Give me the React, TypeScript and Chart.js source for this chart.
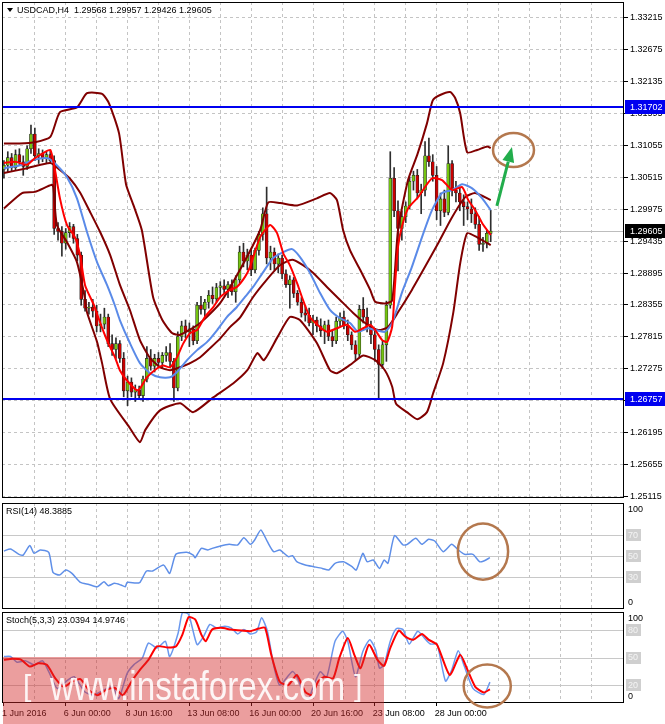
import React, { useEffect, useRef } from "react";
import { Chart, registerables } from "chart.js";

Chart.register(...registerables);

const FONT = '"Liberation Sans", Arial, Helvetica, sans-serif';
Chart.defaults.font.family = FONT;

// ---------------- data ----------------
const symbolName = "USDCAD,H4";
const opens = [1.3065,1.3072,1.3085,1.3068,1.3090,1.3078,1.3070,1.3100,1.3125,1.3088,
1.3092,1.3083,1.3090,1.3080,1.2965,1.2960,1.2940,1.2958,1.2968,1.2948,
1.2920,1.2845,1.2830,1.2832,1.2825,1.2800,1.2803,1.2815,1.2770,1.2760,
1.2770,1.2745,1.2690,1.2705,1.2688,1.2692,1.2682,1.2710,1.2745,1.2732,
1.2745,1.2738,1.2750,1.2755,1.2740,1.2695,1.2782,1.2800,1.2790,1.2795,
1.2775,1.2835,1.2828,1.2840,1.2852,1.2846,1.2865,1.2868,1.2862,1.2870,
1.2858,1.2878,1.2925,1.2910,1.2920,1.2895,1.2928,1.2955,1.2990,1.2915,
1.2925,1.2905,1.2915,1.2888,1.2870,1.2878,1.2855,1.2840,1.2822,1.2818,
1.2805,1.2810,1.2800,1.2792,1.2802,1.2782,1.2775,1.2808,1.2815,1.2800,
1.2785,1.2768,1.2752,1.2828,1.2815,1.2800,1.2785,1.2760,1.2735,1.2768,
1.2835,1.3050,1.2995,1.2965,1.2985,1.3003,1.3045,1.3055,1.3025,1.3030,
1.3088,1.3078,1.3055,1.2995,1.3015,1.2992,1.3075,1.3030,1.3025,1.3010,
1.3002,1.2998,1.2990,1.2972,1.2938,1.2940,1.29568];
const highs = [1.3080,1.3095,1.3092,1.3098,1.3100,1.3088,1.3105,1.3140,1.3135,1.3100,
1.3098,1.3095,1.3096,1.3088,1.2975,1.2968,1.2965,1.2975,1.2972,1.2955,
1.2925,1.2860,1.2840,1.2845,1.2835,1.2820,1.2830,1.2820,1.2785,1.2780,
1.2775,1.2755,1.2715,1.2712,1.2700,1.2698,1.2715,1.2765,1.2760,1.2752,
1.2755,1.2755,1.2765,1.2770,1.2745,1.2790,1.2808,1.2810,1.2805,1.2800,
1.2840,1.2850,1.2845,1.2860,1.2866,1.2872,1.2875,1.2878,1.2875,1.2878,
1.2885,1.2935,1.2940,1.2930,1.2928,1.2932,1.2960,1.3000,1.3035,1.2935,
1.2932,1.2922,1.2920,1.2895,1.2885,1.2882,1.2860,1.2848,1.2835,1.2830,
1.2818,1.2815,1.2812,1.2808,1.2810,1.2792,1.2815,1.2822,1.2825,1.2810,
1.2790,1.2775,1.2835,1.2848,1.2830,1.2808,1.2795,1.2768,1.2775,1.2842,
1.3095,1.3068,1.3012,1.2995,1.3010,1.3052,1.3062,1.3065,1.3040,1.3112,
1.3118,1.3090,1.3070,1.3025,1.3030,1.3105,1.3080,1.3045,1.3035,1.3022,
1.3010,1.3015,1.3000,1.2985,1.2950,1.2962,1.29957];
const lows = [1.3050,1.3060,1.3062,1.3064,1.3072,1.3055,1.3065,1.3092,1.3080,1.3075,
1.3078,1.3076,1.3075,1.2955,1.2945,1.2918,1.2930,1.2950,1.2940,1.2910,
1.2835,1.2825,1.2820,1.2815,1.2790,1.2790,1.2795,1.2765,1.2750,1.2745,
1.2738,1.2680,1.2665,1.2680,1.2672,1.2675,1.2672,1.2705,1.2725,1.2722,
1.2730,1.2728,1.2740,1.2730,1.2672,1.2690,1.2775,1.2780,1.2765,1.2768,
1.2770,1.2820,1.2815,1.2830,1.2838,1.2840,1.2850,1.2855,1.2848,1.2852,
1.2840,1.2872,1.2900,1.2895,1.2885,1.2890,1.2920,1.2945,1.2905,1.2895,
1.2895,1.2890,1.2880,1.2865,1.2830,1.2848,1.2835,1.2815,1.2808,1.2800,
1.2785,1.2790,1.2782,1.2770,1.2775,1.2765,1.2770,1.2800,1.2795,1.2775,
1.2760,1.2742,1.2748,1.2805,1.2790,1.2770,1.2740,1.2678,1.2728,1.2740,
1.2830,1.2985,1.2893,1.2945,1.2975,1.2998,1.3030,1.3015,1.2990,1.3020,
1.3070,1.3045,1.2980,1.2970,1.2985,1.2988,1.3020,1.3010,1.2995,1.2970,
1.2980,1.2975,1.2965,1.2928,1.2926,1.2932,1.29426];
const closes = [1.3072,1.3085,1.3068,1.3090,1.3078,1.3070,1.3100,1.3125,1.3088,1.3092,
1.3083,1.3090,1.3080,1.2965,1.2960,1.2940,1.2958,1.2968,1.2948,1.2920,
1.2845,1.2830,1.2832,1.2825,1.2800,1.2803,1.2815,1.2770,1.2760,1.2770,
1.2745,1.2690,1.2705,1.2688,1.2692,1.2682,1.2710,1.2745,1.2732,1.2745,
1.2738,1.2750,1.2755,1.2740,1.2695,1.2782,1.2800,1.2790,1.2795,1.2775,
1.2835,1.2828,1.2840,1.2852,1.2846,1.2865,1.2868,1.2862,1.2870,1.2858,
1.2878,1.2925,1.2910,1.2920,1.2895,1.2928,1.2955,1.2990,1.2915,1.2925,
1.2905,1.2915,1.2888,1.2870,1.2878,1.2855,1.2840,1.2822,1.2818,1.2805,
1.2810,1.2800,1.2792,1.2802,1.2782,1.2775,1.2808,1.2815,1.2800,1.2785,
1.2768,1.2752,1.2828,1.2815,1.2800,1.2785,1.2760,1.2735,1.2768,1.2835,
1.3050,1.2995,1.2965,1.2985,1.3003,1.3045,1.3055,1.3025,1.3030,1.3088,
1.3078,1.3055,1.2995,1.3015,1.2992,1.3075,1.3030,1.3025,1.3010,1.3002,
1.2998,1.2990,1.2972,1.2938,1.2940,1.29568,1.29605];

// indicator lines: [bar index, value]
const maRed = [[0,1.3076],[3,1.3078],[6,1.3073],[8,1.3084],[10.5,1.3094],[12,1.3098],[13,1.3072],[14.5,1.3016],[16.3,1.2971],[18.4,1.2950],[19.7,1.2920],[21,1.2869],[23.3,1.2835],[24.5,1.2813],[25.8,1.2790],[27,1.2771],[28.8,1.2746],[30,1.2725],[31.8,1.2708],[34.4,1.2691],[35.2,1.2694],[37,1.2713],[39.6,1.2728],[41.2,1.2733],[43,1.2730],[44.8,1.2747],[46.4,1.2770],[48.2,1.2788],[50,1.2793],[52,1.2815],[54.2,1.2832],[56,1.2849],[58.5,1.2861],[60.3,1.2866],[62.4,1.2883],[63.7,1.2900],[66.3,1.2950],[68.9,1.2971],[70.7,1.2957],[72.3,1.2923],[74,1.2903],[75.9,1.2872],[77.4,1.2844],[79.2,1.2815],[81.8,1.2798],[83.6,1.2790],[86.2,1.2796],[88.8,1.2802],[90.9,1.2790],[93,1.2796],[94.8,1.2802],[96.1,1.2793],[97.9,1.2776],[99.2,1.2773],[100.5,1.2799],[101.2,1.2866],[102,1.2934],[103,1.2968],[104.6,1.2999],[107.2,1.3018],[110.8,1.3050],[113.4,1.3047],[116,1.3030],[118.6,1.3035],[120.2,1.3013],[122,1.2996],[123.8,1.2974],[126,1.2954]];
const maBlue = [[0,1.3067],[4.2,1.3072],[7.6,1.3081],[11.4,1.3084],[13.7,1.3072],[16.3,1.3052],[18.9,1.3016],[21.5,1.2959],[24.1,1.2908],[26.7,1.2869],[28.7,1.2835],[30,1.2810],[32.6,1.2771],[35.2,1.2737],[37.8,1.2720],[40.4,1.2713],[43,1.2713],[44.8,1.2722],[47.4,1.2742],[50,1.2759],[52.6,1.2773],[55.2,1.2793],[57.7,1.2815],[60.3,1.2832],[62.4,1.2849],[64.5,1.2866],[67.1,1.2891],[69.7,1.2915],[72.3,1.2925],[74.6,1.2930],[76.6,1.2917],[79.2,1.2890],[81.8,1.2856],[84.4,1.2827],[87,1.2813],[89.6,1.2805],[91.7,1.2790],[94.2,1.2796],[96.1,1.2793],[98.6,1.2790],[100.5,1.2805],[103,1.2856],[105.6,1.2900],[108.2,1.2950],[110.8,1.2996],[113.4,1.3025],[116,1.3030],[118.6,1.3040],[121.2,1.3033],[123.8,1.3016],[126,1.2996]];
const bbMid = [[0,1.3059],[6,1.3067],[12,1.3076],[14.5,1.3064],[17,1.3050],[19.7,1.3026],[22.3,1.2993],[24.9,1.2959],[27.5,1.2920],[30,1.2870],[32.6,1.2827],[35.2,1.2776],[37.8,1.2746],[40.4,1.2730],[43,1.2725],[45.6,1.2730],[48.2,1.2737],[50.8,1.2747],[53.3,1.2762],[56,1.2779],[58.5,1.2798],[61.1,1.2814],[64.5,1.2849],[68,1.2878],[71.5,1.2903],[74.6,1.2912],[77.4,1.2903],[80,1.2890],[83.6,1.2866],[87,1.2844],[90.4,1.2822],[93.5,1.2805],[96.9,1.2793],[99.4,1.2798],[102,1.2823],[105.6,1.2861],[109,1.2900],[112.4,1.2940],[116,1.2984],[119.4,1.3018],[122,1.3025],[126,1.3013]];
const bbUpper = [[0,1.3109],[4,1.3109],[8,1.3111],[12,1.3120],[14.5,1.3162],[18.9,1.3170],[21.5,1.3194],[25.4,1.3193],[27.2,1.3177],[29.8,1.3126],[31.6,1.3040],[33.5,1.3005],[35.7,1.2962],[38.6,1.2849],[41,1.2810],[43.5,1.2788],[45.6,1.2785],[50.8,1.2805],[56,1.2839],[61.1,1.2895],[66.3,1.2962],[68.4,1.3009],[71.5,1.3008],[75.9,1.3004],[81,1.3016],[84.4,1.3025],[86.2,1.3013],[87.8,1.2962],[89.6,1.2928],[92.2,1.2895],[94.8,1.2861],[96.1,1.2841],[98.6,1.2838],[100.5,1.2843],[102,1.2962],[104.6,1.3047],[107,1.3090],[109.5,1.3143],[111,1.3182],[112.9,1.3191],[115.5,1.3196],[116.8,1.3186],[118.1,1.3160],[119.9,1.3094],[122.5,1.3098],[125.1,1.3104],[126,1.3101]];
const bbLower = [[0,1.2999],[4.7,1.3025],[8,1.3027],[12.4,1.3039],[12.8,1.3035],[13.7,1.2971],[16.3,1.2942],[18.9,1.2908],[20.9,1.2849],[21.5,1.2823],[24.1,1.2773],[25.4,1.2737],[27.5,1.2676],[32.4,1.2629],[35.2,1.2603],[36.6,1.2624],[40.4,1.2657],[45.6,1.2669],[49,1.2654],[54.2,1.2679],[59.4,1.2703],[63,1.2725],[65.6,1.2754],[67.3,1.2742],[70.8,1.2781],[74,1.2815],[76.6,1.2810],[81,1.2771],[84.4,1.2725],[86.2,1.2720],[89.6,1.2734],[93,1.2750],[96.1,1.2742],[98.6,1.2725],[100.5,1.2697],[101.5,1.2668],[104.3,1.2654],[107,1.2642],[109.5,1.2654],[111.1,1.2686],[113.7,1.2737],[116.3,1.2822],[118.1,1.2906],[119.9,1.2957],[122.5,1.2950],[126,1.2937]];
const rsiLine = [[0,54.7],[1.7,56.6],[3.9,51.6],[5,50.9],[6.7,59.8],[7.8,52.5],[9.4,55.7],[11.6,53.5],[12.7,34.6],[14.4,32.0],[16,36.8],[17.6,33.6],[19.8,25.1],[22,23.2],[24.2,21.0],[25.9,25.7],[27,22.0],[28.6,24.2],[30.3,22.6],[31.4,21.0],[31.9,25.1],[34.1,24.5],[35.2,25.1],[36.9,35.8],[38.5,35.8],[41.3,41.5],[42.9,33.6],[44.5,51.6],[47.3,53.5],[49,50.9],[49.5,48.4],[51.1,57.2],[52.8,55.7],[53.9,57.2],[56.1,59.5],[58.3,61.0],[60.5,60.4],[62.1,67.3],[63.8,61.0],[64.9,65.1],[66.5,74.6],[68.2,63.5],[69.8,54.1],[71.4,55.7],[73.6,49.4],[74.7,50.3],[75.8,44.6],[78,41.5],[80.2,39.9],[82.4,38.3],[84.1,36.8],[85.7,43.1],[87.9,44.6],[90.1,39.9],[91.2,36.8],[92.9,52.5],[94,44.6],[95.6,46.2],[97.2,38.3],[98.4,46.2],[99.4,43.1],[101.1,69.2],[103.3,60.4],[104.4,61.0],[106.6,66.7],[108.2,61.0],[109.9,65.8],[111.5,64.2],[113.7,54.1],[115.9,61.0],[117.6,55.7],[119.2,51.6],[121.4,51.6],[123.1,44.6],[124.2,45.3],[125.8,48.4]];
const stochK = [[0,51.1],[1.7,51.1],[3.4,44.8],[5.6,46.3],[7.8,41.9],[10,46.3],[11.6,34.5],[13.8,16.0],[16.5,25.2],[18.2,28.9],[20.9,12.3],[23.1,8.6],[25.3,13.0],[28.1,17.8],[29.7,4.9],[31.9,32.6],[33.6,41.9],[35.8,49.3],[37.4,65.9],[39.6,60.4],[41.8,67.8],[42.9,51.1],[45.1,77.0],[46.2,99.2],[47.8,97.4],[50,64.1],[51.7,73.3],[53.3,86.3],[55,82.6],[57.2,84.4],[58.8,82.6],[60.5,75.9],[62.1,80.7],[63.8,75.9],[65.4,78.1],[66.7,93.7],[68.2,78.9],[69.8,41.9],[71.4,19.7],[74.7,34.5],[76.4,23.4],[77.5,8.6],[78.9,4.9],[80.2,19.7],[81.9,34.5],[83.5,27.8],[85.7,67.8],[87.7,78.9],[89,67.8],[91,28.9],[92.9,56.7],[94.7,69.6],[96.2,58.5],[97.2,38.2],[98.4,41.9],[100,67.8],[101.6,81.8],[103.3,80.7],[104.9,64.8],[107.1,78.9],[108.8,71.5],[110.4,64.8],[112.1,64.8],[114.3,24.1],[115.9,36.3],[117.6,57.4],[119.2,40.0],[121.4,16.0],[124.2,9.3],[125.8,23.0]];
const stochD = [[0,47.4],[2.3,48.5],[4.5,47.4],[6.7,40.0],[8.9,43.7],[11.1,41.9],[13.3,27.1],[15.5,17.8],[17.6,23.4],[19.8,26.3],[22,14.1],[24.2,8.6],[26.4,14.1],[28.6,16.7],[30.8,8.6],[33,23.4],[35.2,36.3],[37.4,47.4],[39.6,62.2],[42.4,61.1],[44.5,62.2],[46.2,75.2],[47.8,94.4],[49.5,91.8],[51.1,75.2],[52.2,67.8],[53.9,80.7],[56.1,82.6],[58.8,80.7],[61.6,79.6],[63.8,78.9],[66,81.8],[67.6,82.6],[69.2,53.0],[71.4,23.4],[73.6,19.7],[75.8,30.8],[78,12.3],[79.7,8.6],[81.3,23.4],[83,28.9],[85.2,27.1],[86.8,49.3],[89,71.5],[90.7,53.0],[92.3,38.2],[94.5,64.1],[96.7,47.4],[98.4,40.8],[100,60.4],[102.2,79.6],[103.8,73.3],[106,69.6],[108.2,75.9],[109.9,69.6],[112.1,64.1],[115.4,30.8],[118.1,53.0],[119.8,38.2],[122,17.8],[124.2,11.5],[125.8,15.0]];
const rsiLast = "48.3885";
const stochLast = ["23.0394", "14.9746"];

const priceTicks = [1.33215,1.32675,1.32135,1.31595,1.31055,1.30515,1.29975,1.29435,1.28895,1.28355,1.27815,1.27275,1.26735,1.26195,1.25655,1.25115];
const levelPrices = [1.31702, 1.26757];
const lastPrice = 1.29605;
const gridBars = [8,16,24,32,40,48,56,64,72,80,88,96,104,112,120,128,136,144,152];
const timeTickBars = [0,16,32,48,64,80,96,112];
const timeTickLabels = ["1 Jun 2016","6 Jun 00:00","8 Jun 16:00","13 Jun 08:00","16 Jun 00:00","20 Jun 16:00","23 Jun 08:00","28 Jun 00:00"];
const rsiLevels = [70, 50, 30];
const rsiAxis = [100, 70, 50, 30, 0];
const stochLevels = [80, 50, 20];
const stochAxis = [100, 80, 50, 20, 0];

// hand-drawn marks (in data units)
const mainEllipse = { cx: 131.9, cy: 1.30979, rx: 5.3, ry: 0.00288 };
const arrowTail = [127.6, 1.30031];
const arrowTip = [131.5, 1.3103];
const rsiEllipse = { cx: 124.0, cy: 54.2, rx: 6.5, ry: 26.5 };
const stochEllipse = { cx: 125.1, cy: 18.7, rx: 6.1, ry: 23.6 };

// ---------------- styles ----------------
const GRID = "#c4c4c4";
const UP = "#74c410";
const DOWN = "#c80000";
const BLUE_LEVEL = "#0000f0";
const CIRCLE = "#b4784e";
const ARROW = "#22ad4c";
const X_MIN = -0.5;
const X_MAX = 160.5;

function xScale(labels: boolean) {
  return {
    type: "linear",
    min: X_MIN,
    max: X_MAX,
    bounds: "data",
    offset: false,
    afterBuildTicks: (s: any) => {
      s.ticks = (labels ? [0, ...gridBars] : gridBars).map((v) => ({ value: v }));
    },
    afterFit: (s: any) => {
      s.height = labels ? 21 : 0;
      s.paddingLeft = 0;
      s.paddingRight = 0;
    },
    grid: {
      offset: false,
      color: (c: any) => (c.tick && c.tick.value === 0 ? "rgba(0,0,0,0)" : GRID),
      lineWidth: 1,
      drawTicks: labels,
      tickLength: 3,
      tickColor: (c: any) => (c.tick && timeTickBars.includes(c.tick.value) ? "#000" : "rgba(0,0,0,0)"),
    },
    border: { display: false, dash: [3, 3] },
    ticks: {
      display: labels,
      autoSkip: false,
      maxRotation: 0,
      minRotation: 0,
      align: "start",
      padding: 2,
      labelOffset: -2,
      color: "#000",
      font: { size: 9, family: FONT },
      callback: (v: any) => {
        const k = timeTickBars.indexOf(Number(v));
        return k >= 0 ? timeTickLabels[k] : "";
      },
    },
  };
}

function panelY(min: number, max: number) {
  return {
    type: "linear",
    position: "right",
    min,
    max,
    beginAtZero: false,
    afterFit: (s: any) => {
      s.width = 41;
      s.paddingTop = 0;
      s.paddingBottom = 0;
    },
    grid: { display: false },
    border: { display: false },
    ticks: { display: false },
  };
}

function lineDs(pairs: number[][], color: string, width: number) {
  return {
    type: "line",
    data: pairs.map(([x, y]) => ({ x, y })),
    borderColor: color,
    borderWidth: width,
    pointRadius: 0,
    tension: 0.2,
    fill: false,
  };
}

function strokeFrame(ctx: any, a: any) {
  ctx.save();
  ctx.strokeStyle = "#000";
  ctx.lineWidth = 1;
  ctx.strokeRect(a.left + 0.5, a.top + 0.5, a.right - a.left - 1, a.bottom - a.top - 1);
  ctx.restore();
}

function drawEllipse(chart: any, e: any) {
  const { ctx, scales } = chart;
  const cx = scales.x.getPixelForValue(e.cx);
  const cy = scales.y.getPixelForValue(e.cy);
  const rx = Math.abs(scales.x.getPixelForValue(e.cx + e.rx) - cx);
  const ry = Math.abs(scales.y.getPixelForValue(e.cy + e.ry) - cy);
  ctx.save();
  ctx.strokeStyle = CIRCLE;
  ctx.lineWidth = 2.5;
  ctx.beginPath();
  ctx.ellipse(cx, cy, rx, ry, 0, 0, Math.PI * 2);
  ctx.stroke();
  ctx.restore();
}

const mainDeco = {
  id: "mainDeco",
  beforeDatasetsDraw(chart: any) {
    const { ctx, chartArea: a, scales } = chart;
    const py = Math.round(scales.y.getPixelForValue(lastPrice)) + 0.5;
    ctx.save();
    ctx.strokeStyle = "#bdbdbd";
    ctx.lineWidth = 1;
    ctx.beginPath();
    ctx.moveTo(a.left, py);
    ctx.lineTo(a.right, py);
    ctx.stroke();
    ctx.restore();
  },
  afterDatasetsDraw(chart: any) {
    const { ctx, chartArea: a, scales } = chart;
    ctx.save();
    ctx.strokeStyle = BLUE_LEVEL;
    ctx.lineWidth = 2;
    levelPrices.forEach((p) => {
      const py = Math.round(scales.y.getPixelForValue(p));
      ctx.beginPath();
      ctx.moveTo(a.left, py);
      ctx.lineTo(a.right, py);
      ctx.stroke();
    });
    ctx.restore();
    drawEllipse(chart, mainEllipse);
    // arrow
    const x0 = scales.x.getPixelForValue(arrowTail[0]);
    const y0 = scales.y.getPixelForValue(arrowTail[1]);
    const x1 = scales.x.getPixelForValue(arrowTip[0]);
    const y1 = scales.y.getPixelForValue(arrowTip[1]);
    const ang = Math.atan2(y1 - y0, x1 - x0);
    const hl = 15, hw = 6;
    const bx = x1 - hl * Math.cos(ang);
    const by = y1 - hl * Math.sin(ang);
    ctx.save();
    ctx.strokeStyle = ARROW;
    ctx.fillStyle = ARROW;
    ctx.lineWidth = 3;
    ctx.beginPath();
    ctx.moveTo(x0, y0);
    ctx.lineTo(bx, by);
    ctx.stroke();
    ctx.beginPath();
    ctx.moveTo(x1, y1);
    ctx.lineTo(bx + hw * Math.sin(ang), by - hw * Math.cos(ang));
    ctx.lineTo(bx - hw * Math.sin(ang), by + hw * Math.cos(ang));
    ctx.closePath();
    ctx.fill();
    ctx.restore();
  },
  afterDraw(chart: any) {
    const { ctx, chartArea: a, scales } = chart;
    strokeFrame(ctx, a);
    ctx.save();
    ctx.font = `9px ${FONT}`;
    ctx.textBaseline = "middle";
    ctx.textAlign = "left";
    const box = (p: number, bg: string) => {
      const py = scales.y.getPixelForValue(p);
      ctx.fillStyle = bg;
      ctx.fillRect(a.right + 1, Math.round(py) - 7, 41, 14);
      ctx.fillStyle = "#fff";
      ctx.fillText(p.toFixed(5), a.right + 6, py + 0.5);
    };
    levelPrices.forEach((p) => box(p, BLUE_LEVEL));
    box(lastPrice, "#000");
    // title
    ctx.fillStyle = "#000";
    ctx.beginPath();
    ctx.moveTo(7, 8);
    ctx.lineTo(13, 8);
    ctx.lineTo(10, 12);
    ctx.closePath();
    ctx.fill();
    const n = closes.length - 1;
    const title = `${symbolName}  ${opens[n].toFixed(5)} ${highs[n].toFixed(5)} ${lows[n].toFixed(5)} ${closes[n].toFixed(5)}`;
    ctx.fillText(title, 17, 10.5);
    ctx.restore();
  },
};

function panelDeco(levels: number[], axisVals: number[], title: string, ellipse: any) {
  return {
    id: "panelDeco",
    beforeDatasetsDraw(chart: any) {
      const { ctx, chartArea: a, scales } = chart;
      ctx.save();
      ctx.strokeStyle = "#c8c8c8";
      ctx.lineWidth = 1;
      levels.forEach((v) => {
        const py = Math.round(scales.y.getPixelForValue(v)) + 0.5;
        ctx.beginPath();
        ctx.moveTo(a.left, py);
        ctx.lineTo(a.right, py);
        ctx.stroke();
      });
      ctx.restore();
    },
    afterDraw(chart: any) {
      const { ctx, chartArea: a, scales } = chart;
      strokeFrame(ctx, a);
      ctx.save();
      ctx.font = `9px ${FONT}`;
      ctx.textBaseline = "middle";
      ctx.textAlign = "left";
      axisVals.forEach((v) => {
        let py = scales.y.getPixelForValue(v);
        py = Math.min(Math.max(py, a.top + 6), a.bottom - 7);
        const txt = String(v);
        if (levels.includes(v)) {
          const w = ctx.measureText(txt).width;
          ctx.fillStyle = "#cfcfcf";
          ctx.fillRect(a.right + 2, Math.round(py) - 6, w + 5, 12);
          ctx.fillStyle = "#f4f4f4";
        } else {
          ctx.fillStyle = "#000";
        }
        ctx.fillText(txt, a.right + 4, py + 0.5);
      });
      ctx.fillStyle = "#000";
      ctx.fillText(title, 6, a.top + 9);
      ctx.restore();
      drawEllipse(chart, ellipse);
    },
  };
}

const baseOptions = {
  responsive: false,
  animation: false,
  events: [],
  plugins: { legend: { display: false }, tooltip: { enabled: false } },
};

function mainConfig(): any {
  return {
    type: "bar",
    data: {
      datasets: [
        lineDs(maRed, "#ff0000", 2),
        lineDs(maBlue, "#5a8ae8", 2),
        lineDs(bbMid, "#800000", 2),
        lineDs(bbUpper, "#800000", 2),
        lineDs(bbLower, "#800000", 2),
        {
          type: "bar",
          data: opens.map((o, i) => ({ x: i, y: [o, closes[i]] })),
          backgroundColor: opens.map((o, i) => (closes[i] >= o ? UP : DOWN)),
          borderColor: "#1e1e1e",
          borderWidth: 0.6,
          borderSkipped: false,
          grouped: false,
          maxBarThickness: 3,
          minBarLength: 1,
          barPercentage: 1,
          categoryPercentage: 1,
        },
        {
          type: "bar",
          data: opens.map((o, i) => ({ x: i, y: [lows[i], highs[i]] })),
          backgroundColor: "#2e2e2e",
          borderWidth: 0,
          grouped: false,
          maxBarThickness: 1,
          barPercentage: 1,
          categoryPercentage: 1,
        },
      ],
    },
    options: {
      ...baseOptions,
      layout: { padding: { left: 2, top: 2, right: 0, bottom: 2 } },
      scales: {
        x: xScale(false),
        y: {
          type: "linear",
          position: "right",
          min: 1.25086,
          max: 1.33485,
          beginAtZero: false,
          afterBuildTicks: (s: any) => {
            s.ticks = priceTicks.map((v) => ({ value: v }));
          },
          afterFit: (s: any) => {
            s.width = 41;
            s.paddingTop = 0;
            s.paddingBottom = 0;
          },
          grid: { color: GRID, lineWidth: 1, drawTicks: true, tickLength: 4, tickColor: "#000" },
          border: { display: false, dash: [3, 3] },
          ticks: {
            autoSkip: false,
            padding: 2,
            color: "#000",
            font: { size: 9, family: FONT },
            callback: (v: any) => Number(v).toFixed(5),
          },
        },
      },
    },
    plugins: [mainDeco],
  };
}

function rsiConfig(): any {
  return {
    type: "line",
    data: { datasets: [lineDs(rsiLine, "#5f8fe8", 1.5)] },
    options: {
      ...baseOptions,
      layout: { padding: { left: 2, top: 3, right: 0, bottom: 1 } },
      scales: { x: xScale(false), y: panelY(0, 100) },
    },
    plugins: [panelDeco(rsiLevels, rsiAxis, `RSI(14) ${rsiLast}`, rsiEllipse)],
  };
}

function stochConfig(): any {
  return {
    type: "line",
    data: {
      datasets: [lineDs(stochD, "#ff0000", 2), lineDs(stochK, "#6a98ee", 1.5)],
    },
    options: {
      ...baseOptions,
      layout: { padding: { left: 2, top: 2, right: 0, bottom: 0 } },
      scales: { x: xScale(true), y: panelY(0, 100) },
    },
    plugins: [panelDeco(stochLevels, stochAxis, `Stoch(5,3,3) ${stochLast[0]} ${stochLast[1]}`, stochEllipse)],
  };
}

export default function App() {
  const mainRef = useRef<HTMLCanvasElement>(null);
  const rsiRef = useRef<HTMLCanvasElement>(null);
  const stoRef = useRef<HTMLCanvasElement>(null);

  useEffect(() => {
    const charts: Chart[] = [];
    if (mainRef.current) charts.push(new Chart(mainRef.current, mainConfig()));
    if (rsiRef.current) charts.push(new Chart(rsiRef.current, rsiConfig()));
    if (stoRef.current) charts.push(new Chart(stoRef.current, stochConfig()));
    return () => charts.forEach((c) => c.destroy());
  }, []);

  const abs = (top: number): React.CSSProperties => ({ position: "absolute", left: 0, top, display: "block" });

  return (
    <div
      style={{
        position: "fixed",
        left: 0,
        top: 0,
        width: 665,
        height: 724,
        background: "#fff",
        overflow: "hidden",
      }}
    >
      <canvas ref={mainRef} width={665} height={500} style={abs(0)} />
      <canvas ref={rsiRef} width={665} height={110} style={abs(500)} />
      <canvas ref={stoRef} width={665} height={114} style={abs(610)} />
      <div
        style={{
          position: "absolute",
          left: 3,
          top: 657,
          width: 381,
          height: 67,
          background: "rgba(210,40,40,0.45)",
          overflow: "hidden",
          fontFamily: FONT,
          color: "rgba(255,255,255,0.9)",
          whiteSpace: "nowrap",
        }}
      >
        <span style={{ position: "absolute", left: 20, top: 12, fontSize: 30, lineHeight: "34px" }}>[</span>
        <span
          style={{
            position: "absolute",
            left: 47,
            top: 6,
            fontSize: 40,
            lineHeight: "46px",
            transform: "scaleX(0.83)",
            transformOrigin: "0 0",
          }}
        >
          www.instaforex.com
        </span>
        <span style={{ position: "absolute", left: 351, top: 12, fontSize: 30, lineHeight: "34px" }}>]</span>
      </div>
    </div>
  );
}
